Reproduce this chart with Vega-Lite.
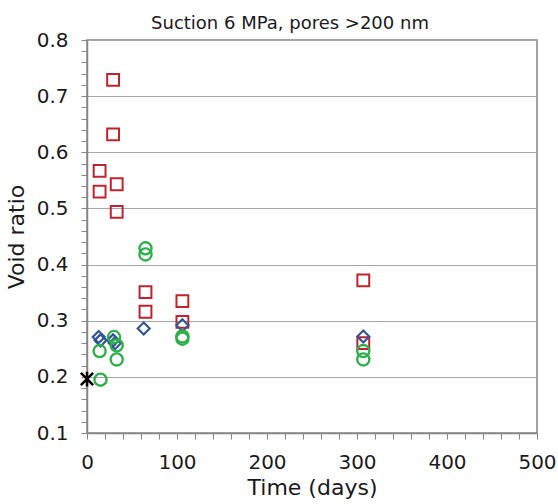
{
  "$schema": "https://vega.github.io/schema/vega-lite/v6.json",
  "autosize": {"type": "none"},
  "width": 450,
  "height": 393,
  "padding": {"left": 87, "top": 40, "right": 21, "bottom": 71},
  "background": "white",
  "title": {
    "text": "Suction 6 MPa, pores >200 nm",
    "font": "DejaVu Sans",
    "fontSize": 18,
    "fontWeight": "normal",
    "color": "#1a1a1a",
    "anchor": "middle",
    "baseline": "alphabetic",
    "offset": 12,
    "dx": -22,
    "dy": 29
  },
  "config": {
    "view": {"stroke": "#868686", "strokeWidth": 1.5},
    "axis": {
      "labelFont": "DejaVu Sans",
      "titleFont": "DejaVu Sans",
      "labelFontSize": 20,
      "titleFontSize": 22,
      "titleFontWeight": "normal",
      "labelColor": "#1a1a1a",
      "titleColor": "#1a1a1a",
      "domainColor": "#868686",
      "domainWidth": 1.5,
      "tickColor": "#868686",
      "tickWidth": 1,
      "tickSize": 6,
      "gridColor": "#a6a6a6",
      "gridWidth": 1,
      "labelOverlap": false,
      "labelFlush": false,
      "labelBound": false
    }
  },
  "data": {
    "values": [
      {"series": "A", "time": 14, "void": 0.567},
      {"series": "A", "time": 14, "void": 0.530},
      {"series": "A", "time": 29, "void": 0.729},
      {"series": "A", "time": 29, "void": 0.632},
      {"series": "A", "time": 33, "void": 0.543},
      {"series": "A", "time": 33, "void": 0.494},
      {"series": "A", "time": 65, "void": 0.351},
      {"series": "A", "time": 65, "void": 0.316},
      {"series": "A", "time": 106, "void": 0.335},
      {"series": "A", "time": 106, "void": 0.298},
      {"series": "A", "time": 307, "void": 0.372},
      {"series": "A", "time": 307, "void": 0.260},
      {"series": "B", "time": 13, "void": 0.271},
      {"series": "B", "time": 15, "void": 0.265},
      {"series": "B", "time": 29, "void": 0.265},
      {"series": "B", "time": 31, "void": 0.260},
      {"series": "B", "time": 63, "void": 0.286},
      {"series": "B", "time": 106, "void": 0.292},
      {"series": "B", "time": 307, "void": 0.272},
      {"series": "C", "time": 14, "void": 0.246},
      {"series": "C", "time": 15, "void": 0.195},
      {"series": "C", "time": 30, "void": 0.271},
      {"series": "C", "time": 33, "void": 0.256},
      {"series": "C", "time": 33, "void": 0.231},
      {"series": "C", "time": 65, "void": 0.429},
      {"series": "C", "time": 65, "void": 0.418},
      {"series": "C", "time": 106, "void": 0.272},
      {"series": "C", "time": 106, "void": 0.268},
      {"series": "C", "time": 307, "void": 0.246},
      {"series": "C", "time": 307, "void": 0.231},
      {"series": "D", "time": 0, "void": 0.196}
    ]
  },
  "mark": {"type": "point", "filled": false, "opacity": 1, "clip": false},
  "encoding": {
    "x": {
      "field": "time",
      "type": "quantitative",
      "scale": {"domain": [0, 500], "nice": false, "zero": false},
      "axis": {
        "title": "Time (days)",
        "values": [0,20,40,60,80,100,120,140,160,180,200,220,240,260,280,300,320,340,360,380,400,420,440,460,480,500],
        "labelExpr": "datum.value % 100 == 0 ? datum.label : ''",
        "grid": false,
        "labelPadding": 13,
        "titlePadding": 5
      }
    },
    "y": {
      "field": "void",
      "type": "quantitative",
      "scale": {"domain": [0.1, 0.8], "nice": false, "zero": false},
      "axis": {
        "title": "Void ratio",
        "values": [0.1,0.12,0.14,0.16,0.18,0.2,0.22,0.24,0.26,0.28,0.3,0.32,0.34,0.36,0.38,0.4,0.42,0.44,0.46,0.48,0.5,0.52,0.54,0.56,0.58,0.6,0.62,0.64,0.66,0.68,0.7,0.72,0.74,0.76,0.78,0.8],
        "labelExpr": "abs(datum.value*10 - round(datum.value*10)) < 0.001 ? format(datum.value, '.1f') : ''",
        "grid": true,
        "gridOpacity": {"condition": {"test": "abs(datum.value*10 - round(datum.value*10)) < 0.001", "value": 1}, "value": 0},
        "labelPadding": 13,
        "titlePadding": 8
      }
    },
    "color": {
      "field": "series",
      "type": "nominal",
      "scale": {"domain": ["A", "B", "C", "D"], "range": ["#C0232B", "#2F5597", "#2BB04A", "#000000"]},
      "legend": null
    },
    "shape": {
      "field": "series",
      "type": "nominal",
      "scale": {"domain": ["A", "B", "C", "D"], "range": ["square", "diamond", "circle", "M-1,-1L1,1M1,-1L-1,1M0,-1.2L0,1.2"]},
      "legend": null
    },
    "size": {
      "field": "series",
      "type": "ordinal",
      "scale": {"domain": ["A", "B", "C", "D"], "range": [140, 150, 121, 190]},
      "legend": null
    },
    "strokeWidth": {
      "field": "series",
      "type": "ordinal",
      "scale": {"domain": ["A", "B", "C", "D"], "range": [2, 2.5, 2, 3]},
      "legend": null
    }
  }
}
